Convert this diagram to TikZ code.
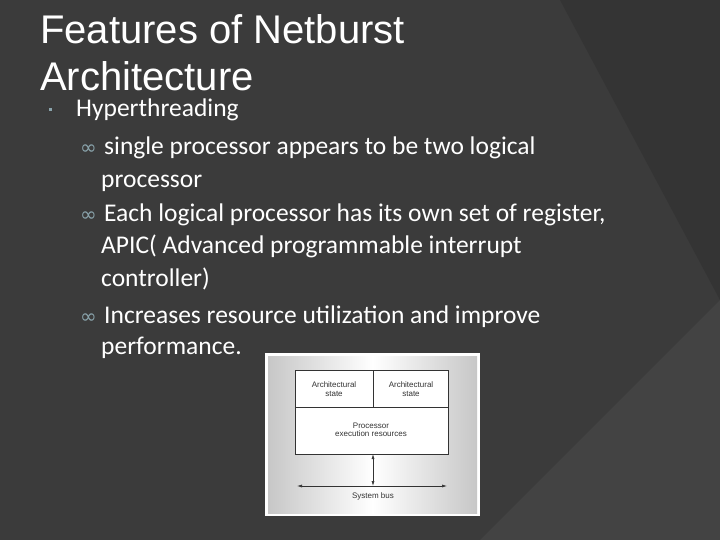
\documentclass[tikz,border=0pt]{standalone}
\usepackage{fontspec}
\setmainfont{Carlito}
\newfontfamily\titlefont{Liberation Sans}
\newfontfamily\symfont{DejaVu Sans}
\usetikzlibrary{arrows.meta}
\definecolor{bg}{HTML}{3B3B3B}
\definecolor{bulc}{HTML}{8AA4AC}
\begin{document}
\begin{tikzpicture}[x=1pt,y=-1pt,
  body/.style={anchor=base west,inner sep=0pt,text=white,font=\fontsize{25.5}{28}\selectfont},
  sub/.style={anchor=base west,inner sep=0pt,text=bulc,font=\symfont\fontsize{20}{22}\selectfont},
  lab/.style={font=\titlefont\fontsize{8}{8.5}\selectfont,align=center,text=black!80},
  box/.style={draw=black!80,line width=0.6pt}]
\useasboundingbox (0,0) rectangle (720,540);
\fill[bg] (0,0) rectangle (720,540);
\fill[black!12!bg] (560,0) -- (720,0) -- (720,300) -- cycle;
\fill[white!4!bg] (720,300) -- (480,540) -- (720,540) -- cycle;
\node[anchor=base west,inner sep=0pt,text=white,font=\titlefont\fontsize{40}{44}\selectfont] (title) at (40,44) {Features of Netburst};
\node[anchor=base west,inner sep=0pt,text=white,font=\titlefont\fontsize{40}{44}\selectfont] (title2) at (40,91) {Architecture};
\fill[bulc] (49,108) rectangle (52,111);
\node[body] (h) at (76,117) {Hyperthreading};
\node[sub] (b1) at (80,155) {∞};
\node[body] (t1) at (104,155) {single processor appears to be two logical};
\node[body] (t1b) at (101,188) {processor};
\node[sub] (b2) at (80,222) {∞};
\node[body] (t2) at (104,222) {Each logical processor has its own set of register,};
\node[body] (t2b) at (101,254) {APIC( Advanced programmable interrupt};
\node[body] (t2c) at (101,286) {controller)};
\node[sub] (b3) at (80,323) {∞};
\node[body] (t3) at (104,323) {Increases resource utilization and improve};
\node[body] (t3b) at (101,354) {performance.};
% figure
\fill[white] (265,353) rectangle (480,516);
\shade[left color=black!22,right color=black!22,middle color=white] (268,356) rectangle (477,513);
\fill[white] (295,370) rectangle (448,454);
\draw[box] (295,370) rectangle (448,454);
\draw[box] (295,407) -- (448,407);
\draw[box] (373,370) -- (373,407);
\node[lab] (a1) at (334,389) {Architectural\\state};
\node[lab] (a2) at (411,389) {Architectural\\state};
\node[lab] (pe) at (371,430) {Processor\\execution resources};
\coordinate (l) at (297,486);
\coordinate (r) at (447,486);
\coordinate (m) at (373,486);
\coordinate (mt) at (373,454);
\draw[black!80,line width=0.6pt,{Latex[length=5pt,width=3pt]}-{Latex[length=5pt,width=3pt]}] (l) -- (r);
\draw[black!80,line width=0.6pt,{Latex[length=5pt,width=3pt]}-{Latex[length=5pt,width=3pt]}] (mt) -- (m);
\node[lab] (sb) at (373,496) {System bus};
\end{tikzpicture}
\end{document}
